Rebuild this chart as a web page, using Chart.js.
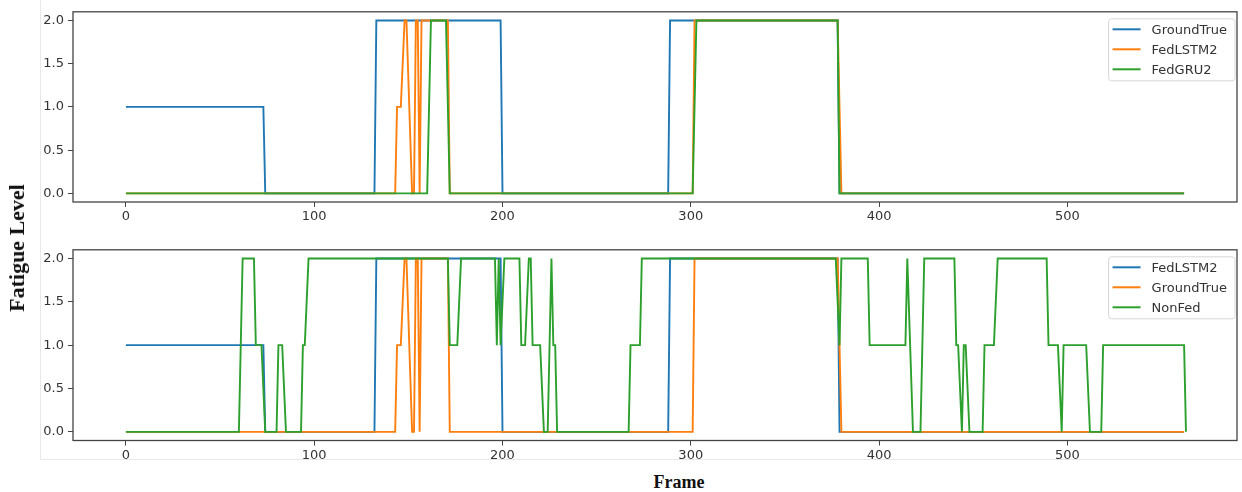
<!DOCTYPE html>
<html>
<head>
<meta charset="utf-8">
<script src="https://cdn.jsdelivr.net/npm/chart.js@4.4.1/dist/chart.umd.min.js"></script>
<style>
    body { margin: 0; background: #fff; width: 1242px; height: 492px; position: relative; overflow: hidden; }
    .fig { position: absolute; left: 40px; top: -1px; width: 1210px; height: 461px; border: 1px solid #e8e8e8; box-sizing: border-box; }
    .panel { position: absolute; left: 0; width: 1242px; height: 230px; }
    .xlabel { position: absolute; left: 679px; top: 482px; transform: translate(-50%, -50%); font: bold 18px "Liberation Serif", serif; color: #111; }
    .ylabel { position: absolute; left: 17px; top: 248px; transform: translate(-50%, -50%) rotate(-90deg); font: bold 22px "Liberation Serif", serif; color: #111; white-space: nowrap; }
</style>
</head>
<body>
<div class="fig"></div>
<div class="panel" style="top:0"><canvas id="top-chart"></canvas></div>
<div class="panel" style="top:238px"><canvas id="bottom-chart"></canvas></div>
<div class="xlabel">Frame</div>
<div class="ylabel">Fatigue Level</div>
<script>
// 축 눈금
const xTicks = [0, 100, 200, 300, 400, 500];
const yTicks = [0, 0.5, 1, 1.5, 2];

// 각 시리즈: [frame, level] 변화 지점
const groundTrue = [[0, 1], [73, 1], [74, 0], [132, 0], [133, 2], [199, 2], [200, 0], [288, 0], [289, 2], [378, 2], [379, 0], [562, 0]];
const fedLSTM2 = [[0, 0], [143, 0], [144, 1], [146, 1], [148, 2], [149, 2], [152, 0], [153, 0], [154, 2], [155, 2], [156, 0], [157, 2],
    [171, 2], [172, 0], [301, 0], [302, 2], [378, 2], [379, 1], [380, 0], [562, 0]];
const fedGRU2 = [[0, 0], [160, 0], [162, 2], [170, 2], [172, 0], [301, 0], [303, 2], [378, 2], [379, 0], [562, 0]];
const nonFed = [[0, 0], [60, 0], [62, 2], [68, 2], [69, 1], [72, 1], [74, 0], [80, 0], [81, 1], [83, 1], [85, 0], [93, 0], [94, 1], [95, 1], [97, 2],
    [171, 2], [172, 1], [176, 1], [178, 2], [196, 2], [197, 1], [198, 2], [199, 1], [201, 2], [209, 2], [210, 1], [212, 1], [214, 2], [215, 2], [216, 1],
    [220, 1], [222, 0], [224, 0], [226, 2], [227, 1], [228, 1], [229, 0], [267, 0], [268, 1], [273, 1], [274, 2],
    [377, 2], [379, 1], [380, 2], [394, 2], [395, 1], [414, 1], [415, 2], [418, 0], [422, 0], [424, 2], [440, 2], [441, 1], [442, 1], [444, 0],
    [445, 1], [446, 1], [448, 0], [455, 0], [456, 1], [461, 1], [463, 2], [489, 2], [490, 1], [495, 1], [497, 0], [498, 1], [510, 1], [512, 0],
    [518, 0], [519, 1], [562, 1], [563, 0]];

const topNames = ["GroundTrue", "FedLSTM2", "FedGRU2"];
const bottomNames = ["FedLSTM2", "GroundTrue", "NonFed"];
const colors = ["#1f77b4", "#ff7f0e", "#2ca02c"];

const toPoints = arr => arr.map(p => ({ x: p[0], y: p[1] }));

// 축 박스 그리기
const boxPlugin = {
    id: "box",
    afterDraw(chart) {
        const { ctx, chartArea: a } = chart;
        ctx.save();
        ctx.strokeStyle = "#444";
        ctx.lineWidth = 1.3;
        ctx.strokeRect(a.left, a.top, a.right - a.left, a.bottom - a.top);
        ctx.restore();
    }
};

// matplotlib 스타일 범례 (오른쪽 위)
const legendPlugin = {
    id: "mplLegend",
    afterDatasetsDraw(chart) {
        const { ctx, chartArea: a } = chart;
        const sets = chart.data.datasets;
        ctx.save();
        ctx.font = "13px 'DejaVu Sans'";
        const textW = Math.max(...sets.map(d => ctx.measureText(d.label).width));
        const w = 43 + textW + 8;
        const h = 62;
        const x = a.right - 2 - w;
        const y = a.top + 7;
        ctx.fillStyle = "rgba(255,255,255,0.85)";
        ctx.strokeStyle = "#d8d8d8";
        ctx.lineWidth = 1;
        ctx.beginPath();
        ctx.roundRect(x, y, w, h, 3);
        ctx.fill();
        ctx.stroke();
        sets.forEach((d, i) => {
            const cy = y + 10.5 + i * 20;
            ctx.strokeStyle = d.borderColor;
            ctx.lineWidth = 2;
            ctx.beginPath();
            ctx.moveTo(x + 4, cy);
            ctx.lineTo(x + 32, cy);
            ctx.stroke();
            ctx.fillStyle = "#333";
            ctx.textBaseline = "middle";
            ctx.fillText(d.label, x + 43, cy + 1);
        });
        ctx.restore();
    }
};

function makeChart(id, names, series, xAxisH) {
    new Chart(document.getElementById(id), {
        type: "line",
        data: {
            datasets: series.map((s, i) => ({
                label: names[i],
                data: toPoints(s),
                borderColor: colors[i],
                borderWidth: 1.9,
                pointRadius: 0,
                tension: 0,
                fill: false,
                order: 3 - i
            }))
        },
        options: {
            responsive: true,
            maintainAspectRatio: false,
            animation: false,
            layout: { padding: { top: 4, right: 5, left: 0, bottom: 0 } },
            plugins: { legend: { display: false }, tooltip: { enabled: false } },
            scales: {
                x: {
                    type: "linear",
                    min: -28.1,
                    max: 590.1,
                    afterBuildTicks: s => { s.ticks = xTicks.map(v => ({ value: v })); },
                    afterFit: s => { s.height = xAxisH; },
                    grid: { display: true, drawOnChartArea: false, drawTicks: true, tickLength: 5, color: "#444" },
                    border: { display: false },
                    ticks: { color: "#333", font: { family: "DejaVu Sans", size: 13 }, padding: 2, maxRotation: 0 }
                },
                y: {
                    min: -0.1,
                    max: 2.1,
                    afterBuildTicks: s => { s.ticks = yTicks.map(v => ({ value: v })); },
                    afterFit: s => { s.width = 73; },
                    grid: { display: true, drawOnChartArea: false, drawTicks: true, tickLength: 5, color: "#444" },
                    border: { display: false },
                    ticks: { color: "#333", font: { family: "DejaVu Sans", size: 13 }, padding: 4, callback: v => v.toFixed(1) }
                }
            }
        },
        plugins: [boxPlugin, legendPlugin]
    });
}

makeChart("top-chart", topNames, [groundTrue, fedLSTM2, fedGRU2], 28);
makeChart("bottom-chart", bottomNames, [groundTrue, fedLSTM2, nonFed], 27.5);
</script>
</body>
</html>
